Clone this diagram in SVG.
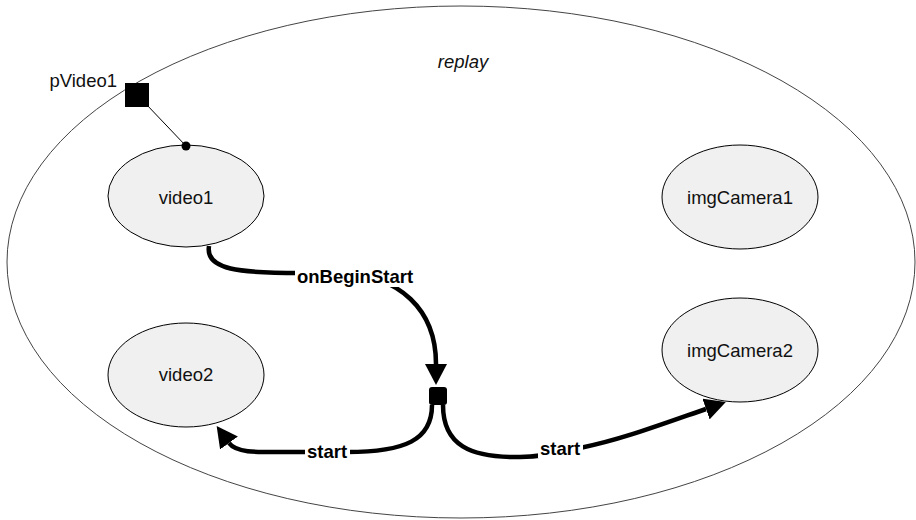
<svg xmlns="http://www.w3.org/2000/svg" width="916" height="520" viewBox="0 0 916 520">
<style>
.node ellipse{fill:#f0f0f0;stroke:#000;stroke-width:1}
.t{font-family:"Liberation Sans",Arial,sans-serif;font-size:18.5px;fill:#111}
.lbl{font-family:"Liberation Sans",Arial,sans-serif;font-size:18.5px;font-weight:bold;fill:#000;text-anchor:middle}
.edge{fill:none;stroke:#000;stroke-width:4.5}
.bg{fill:#fff}
</style>
<defs>
<marker id="arr" markerUnits="userSpaceOnUse" markerWidth="22" markerHeight="22" viewBox="0 0 22 22" refX="0" refY="11" orient="auto">
<path d="M0,0 L21,11 L0,22 z" fill="#000"/>
</marker>
</defs>
<g id="replay">
<ellipse cx="461" cy="262" rx="454" ry="256" fill="none" stroke="#444" stroke-width="1"/>
<text class="t" x="463" y="68" text-anchor="middle" font-style="italic">replay</text>
</g>
<g id="video1" class="node">
<ellipse cx="186" cy="196" rx="78" ry="51"/>
<text class="t" x="186" y="204" text-anchor="middle">video1</text>
</g>
<g id="video2" class="node">
<ellipse cx="186" cy="375" rx="78" ry="52"/>
<text class="t" x="186" y="381" text-anchor="middle">video2</text>
</g>
<g id="imgCamera1" class="node">
<ellipse cx="740" cy="197" rx="78" ry="52"/>
<text class="t" x="740" y="204" text-anchor="middle">imgCamera1</text>
</g>
<g id="imgCamera2" class="node">
<ellipse cx="740" cy="350" rx="78" ry="52"/>
<text class="t" x="740" y="357" text-anchor="middle">imgCamera2</text>
</g>
<g id="pVideo1">
<line x1="146" y1="104" x2="186" y2="146" stroke="#000" stroke-width="1"/>
<rect x="125" y="83" width="24" height="24" fill="#000"/>
<circle cx="186" cy="146" r="4.5" fill="#000"/>
<text class="t" x="117" y="87" text-anchor="end">pVideo1</text>
</g>
<g id="junction">
<rect x="429" y="387" width="18" height="18" rx="3" fill="#000"/>
</g>
<g id="connectors">
<path class="edge" d="M209,246 C205,270 240,273 300,273 L340,273 C400,275 436,310 436,364" marker-end="url(#arr)"/>
<rect class="bg" x="295" y="265" width="121" height="22"/>
<text class="lbl" x="355" y="283">onBeginStart</text>
<path class="edge" d="M432,405 C432,440 405,452 347,452 L300,452 C260,452 237,454 229,443" marker-end="url(#arr)"/>
<rect class="bg" x="305" y="443" width="45" height="18"/>
<text class="lbl" x="327" y="458">start</text>
<path class="edge" d="M443,405 C443,445 470,458 520,457 C545,457 560,452 580,448 C620,440 660,425 706,409" marker-end="url(#arr)"/>
<rect class="bg" x="538" y="440" width="45" height="18"/>
<text class="lbl" x="560" y="455">start</text>
</g>
</svg>
